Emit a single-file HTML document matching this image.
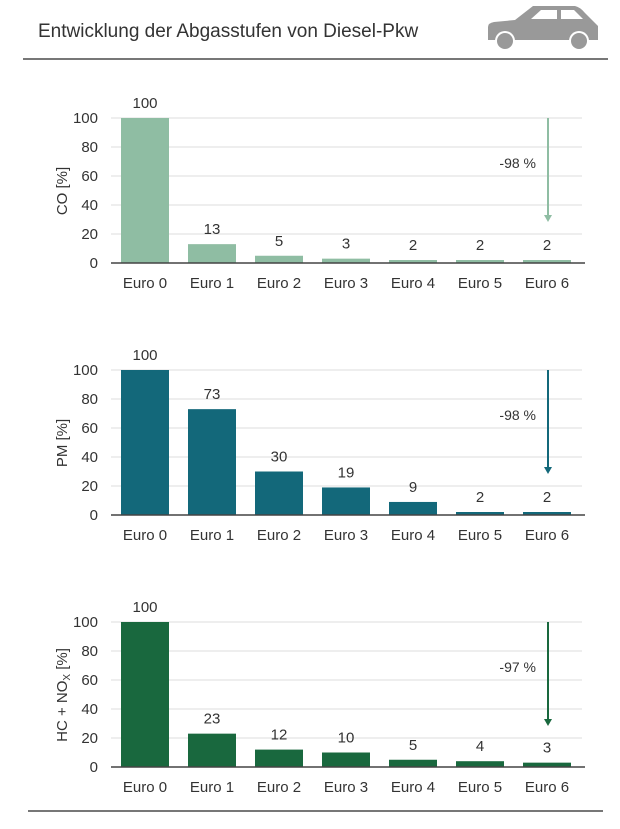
<!DOCTYPE html><html><head><meta charset="utf-8"><style>body{margin:0;background:#fff}svg{display:block}text{font-family:"Liberation Sans",sans-serif;fill:#333}</style></head><body>
<svg width="620" height="829" viewBox="0 0 620 829">
<text x="38" y="37" font-size="19" fill="#333">Entwicklung der Abgasstufen von Diesel-Pkw</text>
<g fill="#999">
<path d="M488 40 L488 27 Q488 23 494 22 L515 20 L533 6 L575 6 Q580 7 585 13 L598 26 L598 40 Z"/>
</g>
<path d="M531 19 L541 10 L557 10 L557 19 Z M561 10 L574 10 L583 19 L561 19 Z" fill="#fff"/>
<circle cx="505" cy="41" r="10" fill="#fff"/><circle cx="505" cy="41" r="8" fill="#999"/>
<circle cx="579" cy="41" r="10" fill="#fff"/><circle cx="579" cy="41" r="8" fill="#999"/>
<line x1="23" y1="59" x2="608" y2="59" stroke="#777" stroke-width="2"/>
<line x1="28" y1="811" x2="603" y2="811" stroke="#777" stroke-width="2"/>
<g id="charts"></g>
</svg>
<script>
const charts=[
{b:263,c:"#8fbda3",v:[100,13,5,3,2,2,2],lab:"CO [%]",p:"-98 %"},
{b:515,c:"#13687a",v:[100,73,30,19,9,2,2],lab:"PM [%]",p:"-98 %"},
{b:767,c:"#19683e",v:[100,23,12,10,5,4,3],lab:"HC + NO<tspan font-size='10' dy='3'>X</tspan><tspan dy='-3'> [%]</tspan>",p:"-97 %"}];
let s="";
charts.forEach(ch=>{
 const b=ch.b,k=1.45;
 for(let t=0;t<=100;t+=20){const y=b-t*k;
  if(t>0)s+=`<line x1="111" y1="${y}" x2="582" y2="${y}" stroke="#ddd" stroke-width="1"/>`;
  s+=`<text x="98" y="${y+5}" font-size="15" text-anchor="end">${t}</text>`;}
 ch.v.forEach((v,i)=>{const x=121+i*67,h=Math.max(v*k,3);
  s+=`<rect x="${x}" y="${b-h}" width="48" height="${h}" fill="${ch.c}"/>`;
  s+=`<text x="${x+24}" y="${b-h-10}" font-size="15" text-anchor="middle">${v}</text>`;
  s+=`<text x="${x+24}" y="${b+25}" font-size="15" text-anchor="middle">Euro ${i}</text>`;});
 s+=`<line x1="111" y1="${b}" x2="585" y2="${b}" stroke="#444" stroke-width="1.5"/>`;
 s+=`<text transform="translate(67 ${b-72}) rotate(-90)" font-size="15" text-anchor="middle">${ch.lab}</text>`;
 const a=b-145;
 s+=`<line x1="548" y1="${a}" x2="548" y2="${a+98}" stroke="${ch.c}" stroke-width="2"/>`;
 s+=`<path d="M544 ${a+97} L552 ${a+97} L548 ${a+104} Z" fill="${ch.c}"/>`;
 s+=`<text x="536" y="${a+50}" font-size="14" text-anchor="end">${ch.p}</text>`;
});
document.getElementById("charts").innerHTML=s;
</script>
</body></html>
